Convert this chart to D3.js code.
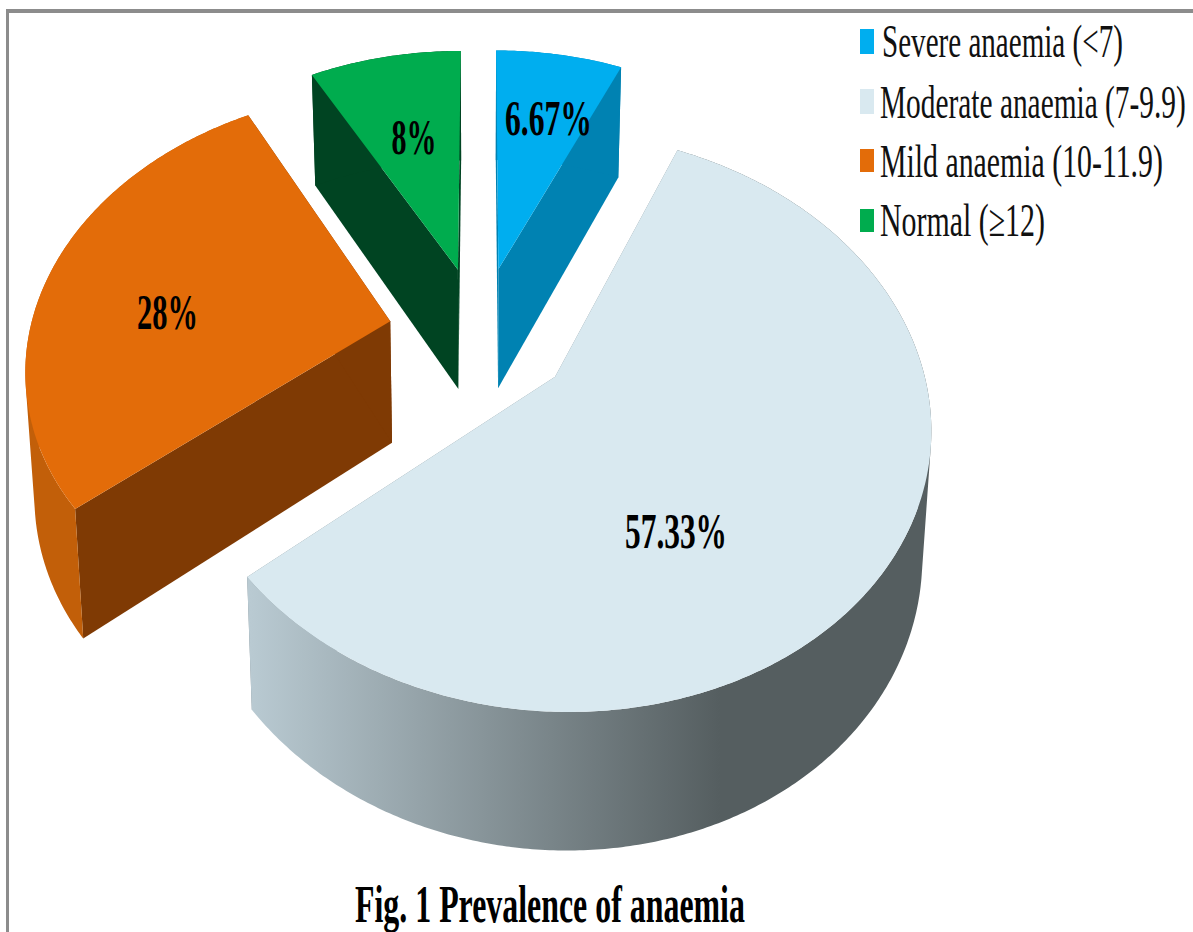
<!DOCTYPE html>
<html><head><meta charset="utf-8">
<script src="https://cdnjs.cloudflare.com/ajax/libs/d3/7.8.5/d3.min.js"></script>
<style>html,body{margin:0;padding:0;background:#fff;overflow:hidden}svg{display:block}text{font-family:"Liberation Serif",serif}</style>
</head><body><svg id="c" width="1193" height="932"></svg>
<script>
const categories = ["Severe anaemia (<7)", "Moderate anaemia (7-9.9)", "Mild anaemia (10-11.9)", "Normal (\u226512)"];
const values = [6.67, 57.33, 28, 8];
const valueLabels = ["6.67%", "57.33%", "28%", "8%"];
const topColors = ["#00aeef", "#d9e9f0", "#e36c09", "#00ac4e"];
const cutColors = ["#0082b2", "#7c8a90", "#7f3a04", "#004422"];
const wallColors = ["#0082b2", "url(#wallGrad)", "#c25f09", "#004422"];
const titleText = "Fig. 1 Prevalence of anaemia";

// layout only
const labelPos = [[548.5,118,87],[676,531,102],[167.5,312,61],[414,137,45]];
const legendRows = [[882,57,241,29,25],[880,118,306,89,25],[880,177,283,149,23],[880,236,165,209,23]];

const svg = d3.select("#c");
const defs = svg.append("defs");
const grad = defs.append("linearGradient").attr("id","wallGrad").attr("gradientUnits","userSpaceOnUse")
  .attr("x1",250).attr("x2",720).attr("y1",0).attr("y2",0);
grad.append("stop").attr("offset",0).attr("stop-color","#b9cad2");
grad.append("stop").attr("offset",1).attr("stop-color","#555e60");

// frame
svg.append("rect").attr("x",6).attr("y",9).attr("width",1187).attr("height",4).attr("fill","#8c8c8c");
svg.append("rect").attr("x",6).attr("y",9).attr("width",3).attr("height",923).attr("fill","#8c8c8c");

// perspective projection of the pie disk
const P = {cx:480, cy:334, rx:361, ry:270, k:0.152, explode:0.255};
const project = (u,v) => { const s = 1/(1-P.k*v); return [P.cx+P.rx*u*s, P.cy+P.ry*v*s, s]; };
const lower = ([x,y,s]) => [P.cx+(x-P.cx)*0.98, y+44+78*s];

const pie = d3.pie().sort(null).startAngle(0).endAngle(2*Math.PI);
const arcs = pie(values);
const line = d3.line();

const slices = arcs.map((a,i)=>{
  const mid=(a.startAngle+a.endAngle)/2;
  const ox=P.explode*Math.sin(mid), oy=-P.explode*Math.cos(mid);
  const pt=(r,t)=>project(ox+r*Math.sin(t), oy-r*Math.cos(t));
  const n=Math.max(2,Math.ceil((a.endAngle-a.startAngle)/0.01));
  const angles=d3.range(n+1).map(j=>a.startAngle+(a.endAngle-a.startAngle)*j/n);
  const outer=angles.map(t=>pt(1,t));
  return {i,apex:pt(0,0),outer};
});

const order=[2,3,0,1];
order.forEach(i=>{
  const s=slices[i];
  const g=svg.append("g");
  const xy=p=>[p[0],p[1]];
  // cut faces
  [s.outer[0],s.outer[s.outer.length-1]].forEach(e=>{
    g.append("path").attr("d",line([xy(s.apex),xy(e),lower(e),lower(s.apex)])+"Z").attr("fill",cutColors[i]);
  });
  // outer wall: one consistently wound quad per arc step, so the silhouette tangent is filled
  const quads=d3.range(s.outer.length-1).map(j=>{
    const q=[xy(s.outer[j]),xy(s.outer[j+1]),lower(s.outer[j+1]),lower(s.outer[j])];
    return d3.polygonArea(q)<0?q.reverse():q;
  });
  g.append("path").attr("d",quads.map(q=>line(q)+"Z").join("")).attr("fill",wallColors[i]);
  // top
  g.append("path").attr("d",line([xy(s.apex)].concat(s.outer.map(xy)))+"Z").attr("fill",topColors[i]);
});

// text squeezed horizontally to a known width
function fitted(x,y,w,size,weight,fill,t){
  const el=svg.append("text").attr("font-size",size).attr("font-weight",weight).attr("fill",fill).text(t);
  const natural=el.node().getComputedTextLength();
  el.attr("transform",`translate(${x},${y}) scale(${w/natural},1)`);
}

valueLabels.forEach((t,i)=>{
  const [x,y,w]=labelPos[i];
  fitted(x-w/2,y+17,w,50,"bold","#000",t);
});

categories.forEach((c,i)=>{
  const [x,y,w,sy,sh]=legendRows[i];
  svg.append("rect").attr("x",860).attr("y",sy).attr("width",14).attr("height",sh).attr("fill",topColors[i]);
  fitted(x,y,w,46,"normal","#111",c);
});

fitted(355,922,390,52,"bold","#000",titleText);
</script></body></html>
